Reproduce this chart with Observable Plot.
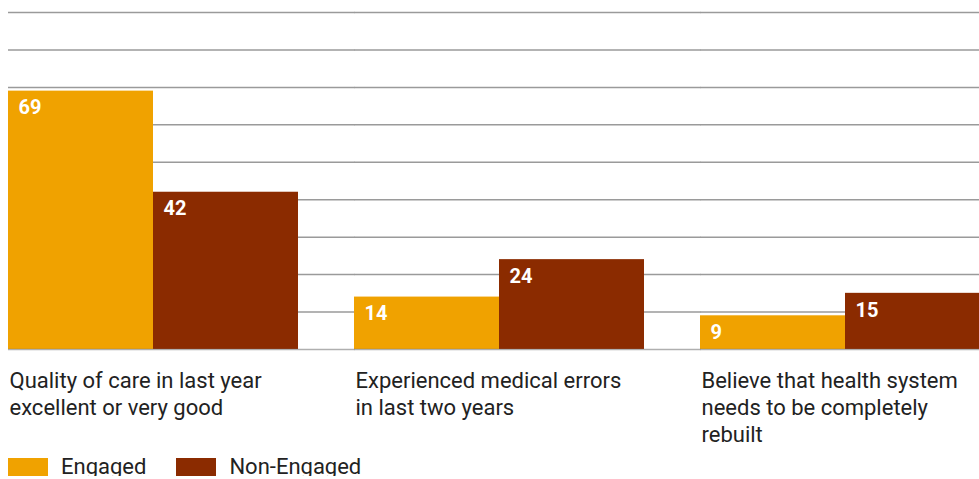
<!DOCTYPE html>
<html>
<head>
<meta charset="utf-8">
<script src="https://cdn.jsdelivr.net/npm/d3@7"></script>
<script src="https://cdn.jsdelivr.net/npm/@observablehq/plot@0.6"></script>
<style>
  html, body { margin: 0; padding: 0; background: #fff; overflow: hidden; }
  #wrap { width: 979px; height: 452px; overflow: hidden; }
  #legend { display: flex; align-items: center; height: 18px; margin-top: 6px; margin-left: 8px; font-family: Roboto, sans-serif; font-size: 22px; color: #222; }
  .item { display: flex; align-items: center; margin-right: 30px; }
  .item span { position: relative; top: -1px; }
  .sw { width: 40px; height: 18px; margin-right: 13px; }
</style>
</head>
<body>
<div id="wrap"></div>
<div id="legend"></div>
<script>
const categories = [
  "Quality of care in last year\nexcellent or very good",
  "Experienced medical errors\nin last two years",
  "Believe that health system\nneeds to be completely\nrebuilt"
];
const series = ["Engaged", "Non-Engaged"];
const engaged = [69, 14, 9];
const nonEngaged = [42, 24, 15];
const yTicks = [10, 20, 30, 40, 50, 60, 70, 80, 90];
const colors = ["#f0a200", "#8b2b00"];

const data = [];
categories.forEach((c, i) => {
  data.push({category: c, series: series[0], value: engaged[i]});
  data.push({category: c, series: series[1], value: nonEngaged[i]});
});

function build(dxLabel, gap) {
  return Plot.plot({
    width: 991,
    height: 452,
    marginLeft: 8,
    marginRight: 0,
    marginTop: 12,
    marginBottom: 103,
    style: {fontFamily: "Roboto, sans-serif", background: "transparent", maxWidth: "none"},
    fx: {domain: categories, paddingInner: 56 / 346.5, paddingOuter: 0, axis: null, label: null},
    x: {domain: series, padding: 0, axis: null, label: null},
    y: {domain: [0, 90], axis: null, label: null},
    color: {domain: series, range: colors},
    marks: [
      Plot.ruleY(yTicks, {stroke: "#9a9a9a", strokeWidth: 1.5, insetRight: -gap}),
      Plot.barY(data, {fx: "category", x: "series", y: "value", fill: "series"}),
      Plot.ruleY([0], {stroke: "#7a7a7a", strokeWidth: 1.5, strokeOpacity: 0.6, insetRight: -gap}),
      Plot.text(data, {
        fx: "category", x: "series", y: "value", text: d => String(d.value),
        textAnchor: "start", lineAnchor: "top", dx: dxLabel, dy: 9,
        fill: "white", fontWeight: "bold", fontSize: 20
      }),
      Plot.text(categories, {
        fx: d => d, text: d => d, frameAnchor: "bottom-left",
        textAnchor: "start", lineAnchor: "top", dy: 19, dx: 1,
        fill: "#222", fontSize: 22, lineHeight: 1.23
      })
    ]
  });
}

let plot = build(0, 0);
const bw = plot.scale("x").bandwidth || 145;
const fxs = plot.scale("fx");
const gap = (fxs.range[1] - fxs.range[0] - categories.length * fxs.bandwidth) / (categories.length - 1);
plot = build(-bw / 2 + 10, gap);
document.getElementById("wrap").appendChild(plot);

const legend = document.getElementById("legend");
series.forEach((s, i) => {
  const item = document.createElement("div");
  item.className = "item";
  const sw = document.createElement("div");
  sw.className = "sw";
  sw.style.background = colors[i];
  const t = document.createElement("span");
  t.textContent = s;
  item.appendChild(sw);
  item.appendChild(t);
  legend.appendChild(item);
});
</script>
</body>
</html>
